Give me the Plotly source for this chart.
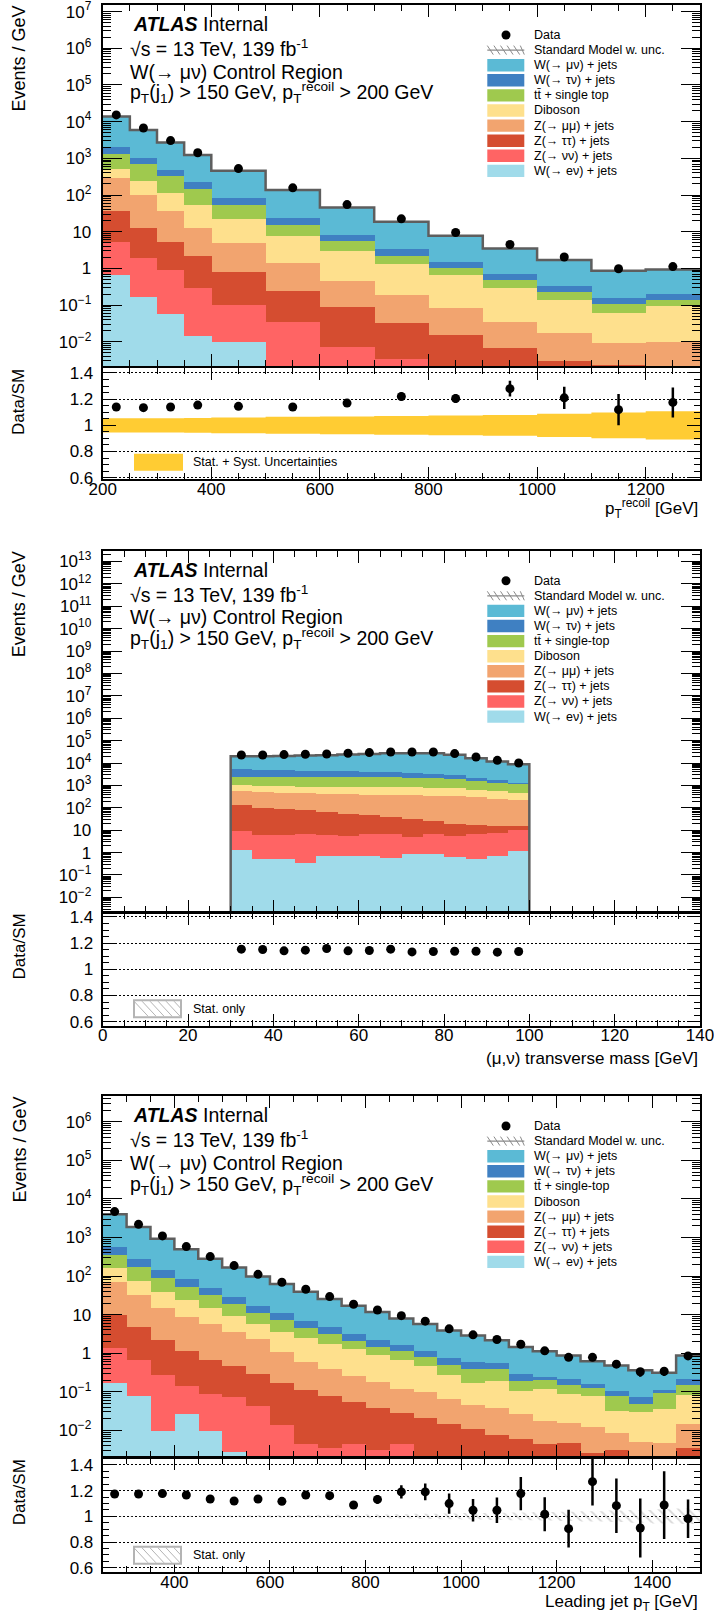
import math
import plotly.graph_objects as go

W, H = 714, 1615
FONT = "Liberation Sans, Arial, Helvetica, sans-serif"

# ---------------- colours ----------------
C_WMN = "#5bbad5"
C_WTN = "#3f80c2"
C_TT = "#9fc94e"
C_DIB = "#fee08d"
C_ZMM = "#f2a46f"
C_ZTT = "#d54d30"
C_ZNN = "#ff6464"
C_WEN = "#a0dbea"
C_BAND = "#ffcc33"

# ---------------- Panel 1 : p_T^recoil ----------------
p1_edges = [200, 250, 300, 350, 400, 500, 600, 700, 800, 900, 1000, 1100, 1200, 1300]
p1_wen = [0.66, 0.17, 0.059, 0.014, 0.01, 0.0005, 0.0002, 0.0001, 0, 0, 0, 0, 0]
p1_znn = [4.64, 1.70, 0.84, 0.27, 0.09, 0.0345, 0.0071, 0.0032, 0.002, 0.001, 0.0005, 0.0003, 0.0002]
p1_ztt = [31.7, 11.1, 4.4, 1.92, 0.71, 0.205, 0.080, 0.030, 0.013, 0.0059, 0.0025, 0.002, 0.0008]
p1_zmm = [260, 87, 31.7, 10.1, 4.0, 1.13, 0.36, 0.157, 0.066, 0.028, 0.014, 0.0067, 0.0086]
p1_dib = [213, 140, 74, 40.7, 17.2, 6.2, 2.55, 1.12, 0.58, 0.265, 0.123, 0.053, 0.084]
p1_top = [810, 465, 219, 93, 31, 7.3, 2.7, 0.89, 0.34, 0.18, 0.09, 0.048, 0.043]
p1_wtn = [770, 335, 150, 76, 28, 8.1, 2.7, 1.2, 0.45, 0.22, 0.11, 0.05, 0.058]
p1_wmn = [11710, 4860, 2220, 1008, 379, 114, 37.6, 15.3, 6.35, 2.8, 1.35, 0.70, 0.745]
p1_data = [15300, 6700, 3050, 1420, 527, 157, 55, 22.5, 9.5, 4.5, 2.05, 0.98, 1.12]
p1_ratio = [1.14, 1.135, 1.14, 1.155, 1.145, 1.14, 1.17, 1.22, 1.205, 1.28, 1.21, 1.12, 1.175]
p1_rerr = [0.01, 0.01, 0.012, 0.014, 0.015, 0.02, 0.025, 0.03, 0.035, 0.06, 0.085, 0.12, 0.115]
p1_unc = [0.055, 0.055, 0.055, 0.057, 0.06, 0.065, 0.068, 0.072, 0.075, 0.08, 0.088, 0.098, 0.108]

# ---------------- Panel 2 : transverse mass ----------------
p2_edges = [30, 35, 40, 45, 50, 55, 60, 65, 70, 75, 80, 85, 90, 95, 100]
p2_wen = [1.32, 0.52, 0.56, 0.36, 0.71, 0.76, 0.71, 0.62, 0.87, 0.93, 0.66, 0.52, 0.71, 1.23]
p2_znn = [8.0, 5.6, 5.5, 6.4, 5.9, 4.7, 6.1, 6.7, 4.3, 6.4, 5.0, 6.3, 7.4, 9.8]
p2_ztt = [125, 96, 86, 73, 61, 51.5, 41, 32.7, 28.8, 18.7, 14.7, 10.4, 7.4, 4.5]
p2_zmm = [452, 427, 402, 397, 378, 359, 354, 348, 341, 337, 319, 289, 252, 225]
p2_dib = [464, 451, 452, 438, 438, 468, 482, 467, 480, 463, 432, 366, 319, 221]
p2_top = [1420, 1410, 1444, 1475, 1506, 1506, 1506, 1535, 1455, 1404, 1239, 1028, 844, 739]
p2_wtn = [2960, 2680, 2510, 2350, 2190, 2030, 1880, 1740, 1540, 1250, 920, 610, 320, 180]
p2_wmn = [14470, 14930, 15900, 16660, 17420, 19480, 21230, 22870, 23650, 24020, 20170, 13990, 9950, 7420]
p2_data = [22900, 22900, 23700, 24500, 25400, 27200, 29100, 31200, 31200, 31200, 26300, 18600, 13200, 10000]
p2_ratio = [1.154, 1.151, 1.141, 1.146, 1.159, 1.141, 1.144, 1.154, 1.133, 1.136, 1.138, 1.138, 1.131, 1.136]
p2_rerr = [0.006, 0.006, 0.006, 0.006, 0.006, 0.006, 0.006, 0.006, 0.006, 0.006, 0.006, 0.007, 0.008, 0.009]
p2_unc = [0.004, 0.004, 0.004, 0.004, 0.004, 0.004, 0.004, 0.004, 0.004, 0.004, 0.004, 0.005, 0.005, 0.006]

# ---------------- Panel 3 : leading jet pT ----------------
p3_edges = [250, 300, 350, 400, 450, 500, 550, 600, 650, 700, 750, 800, 850,
            900, 950, 1000, 1050, 1100, 1150, 1200, 1250, 1300, 1350, 1400, 1450, 1500]
p3_wen = [0.166, 0.078, 0.0098, 0.0266, 0.0096, 0.0028, 0, 0, 0, 0, 0, 0, 0,
          0, 0, 0, 0, 0, 0, 0, 0, 0, 0, 0, 0]
p3_znn = [1.17, 0.57, 0.263, 0.115, 0.076, 0.072, 0.043, 0.0138, 0.0044, 0.0034, 0.0044, 0.0030, 0.0044,
          0.001, 0.0008, 0.0006, 0.0005, 0.0004, 0.0003, 0.0003, 0.0002, 0.0002, 0.0001, 0.0001, 0.0003]
p3_ztt = [8.49, 4.25, 1.94, 1.03, 0.582, 0.395, 0.247, 0.159, 0.108, 0.075, 0.049, 0.034, 0.0236,
          0.020, 0.0135, 0.0105, 0.0069, 0.0057, 0.0040, 0.0045, 0.0024, 0.0028, 0.0009, 0.0009, 0.0032]
p3_zmm = [62.1, 27.5, 13.0, 7.72, 4.95, 3.16, 2.01, 0.927, 0.468, 0.302, 0.207, 0.143, 0.090,
          0.078, 0.0517, 0.0349, 0.0296, 0.0209, 0.0132, 0.011, 0.0096, 0.0057, 0.004, 0.0038, 0.0114]
p3_dib = [87.1, 43.8, 24.3, 15.2, 9.58, 5.61, 3.44, 2.53, 1.86, 1.36, 1.01, 0.72, 0.552,
          0.369, 0.202, 0.127, 0.150, 0.078, 0.0985, 0.0702, 0.0658, 0.0223, 0.025, 0.0302, 0.0691]
p3_top = [194, 92.8, 48.2, 27.2, 17.2, 9.66, 5.56, 3.66, 2.17, 1.42, 0.85, 0.58, 0.48,
          0.312, 0.239, 0.227, 0.213, 0.082, 0.084, 0.067, 0.048, 0.045, 0.017, 0.058, 0.063]
p3_wtn = [228, 104, 56.3, 31.3, 15.9, 9.3, 5.5, 3.51, 2.26, 1.74, 1.04, 0.73, 0.49,
          0.37, 0.223, 0.194, 0.171, 0.109, 0.04, 0.067, 0.037, 0.029, 0.026, 0.021, 0.064]
p3_wmn = [3422, 1601, 791, 415, 234, 139, 81.0, 51.2, 32.1, 20.4, 13.9, 9.49, 6.26,
          4.54, 3.16, 2.27, 1.59, 1.15, 0.89, 0.65, 0.457, 0.375, 0.287, 0.196, 0.659]
p3_data = [4700, 2200, 1100, 581, 320, 187, 111, 69.3, 45.5, 29.4, 18.6, 13.2, 9.4,
           6.77, 4.28, 2.99, 2.26, 1.71, 1.15, 0.78, 0.78, 0.52, 0.33, 0.34, 0.85]
p3_ratio = [1.174, 1.174, 1.177, 1.166, 1.135, 1.119, 1.135, 1.117, 1.166, 1.161, 1.088, 1.132, 1.19,
            1.19, 1.099, 1.047, 1.047, 1.177, 1.016, 0.904, 1.27, 1.083, 0.909, 1.088, 0.982]
p3_rerr = [0.01, 0.01, 0.01, 0.012, 0.012, 0.013, 0.014, 0.015, 0.018, 0.02, 0.025, 0.035, 0.052,
           0.065, 0.078, 0.087, 0.099, 0.129, 0.132, 0.147, 0.186, 0.212, 0.23, 0.264, 0.15]
p3_unc = [0.003, 0.003, 0.004, 0.005, 0.006, 0.007, 0.008, 0.009, 0.01, 0.012, 0.013, 0.015, 0.017,
          0.02, 0.022, 0.025, 0.028, 0.03, 0.033, 0.036, 0.04, 0.045, 0.05, 0.055, 0.06]

labels_a = ["W(→ μν) + jets", "W(→ τν) + jets", "tt\u0304 + single top", "Diboson",
            "Z(→ μμ) + jets", "Z(→ ττ) + jets", "Z(→ νν) + jets", "W(→ eν) + jets"]
labels_b = ["W(→ μν) + jets", "W(→ τν) + jets", "tt\u0304 + single-top", "Diboson",
            "Z(→ μμ) + jets", "Z(→ ττ) + jets", "Z(→ νν) + jets", "W(→ eν) + jets"]
leg_colors = [C_WMN, C_WTN, C_TT, C_DIB, C_ZMM, C_ZTT, C_ZNN, C_WEN]
stack_colors = [C_WEN, C_ZNN, C_ZTT, C_ZMM, C_DIB, C_TT, C_WTN, C_WMN]

panels = [
    dict(edges=p1_edges, comps=[p1_wen, p1_znn, p1_ztt, p1_zmm, p1_dib, p1_top, p1_wtn, p1_wmn],
         data=p1_data, ratio=p1_ratio, rerr=p1_rerr, unc=p1_unc, kind="syst",
         main=(5, 366), rat=(368, 479.3), ylog=(-2.66, 7.18), rr=(0.588, 1.438),
         xr=(200, 1300), dt=200, mdt=50, labels=labels_a, floor=False,
         xtitle="p<sub>T</sub><sup>recoil</sup> [GeV]", xty=29),
    dict(edges=p2_edges, comps=[p2_wen, p2_znn, p2_ztt, p2_zmm, p2_dib, p2_top, p2_wtn, p2_wmn],
         data=p2_data, ratio=p2_ratio, rerr=p2_rerr, unc=p2_unc, kind="stat",
         main=(550.7, 911.5), rat=(912.5, 1025.7), ylog=(-2.63, 13.48), rr=(0.569, 1.434),
         xr=(0, 140), dt=20, mdt=5, labels=labels_b, floor=True,
         xtitle="(μ,ν) transverse mass [GeV]", xty=33),
    dict(edges=p3_edges, comps=[p3_wen, p3_znn, p3_ztt, p3_zmm, p3_dib, p3_top, p3_wtn, p3_wmn],
         data=p3_data, ratio=p3_ratio, rerr=p3_rerr, unc=p3_unc, kind="stat",
         main=(1096, 1457.3), rat=(1458.3, 1572.3), ylog=(-2.70, 6.67), rr=(0.564, 1.452),
         xr=(250, 1500), dt=200, mdt=50, labels=labels_b, floor=False,
         xtitle="Leading jet p<sub>T</sub> [GeV]", xty=31),
]


def P(x):
    return x / W


def Q(y):
    return 1 - y / H


XL, XR = 102.7, 700.0
fig = go.Figure()
layout = dict(width=W, height=H, margin=dict(l=0, r=0, t=0, b=0, autoexpand=False),
              paper_bgcolor="white", plot_bgcolor="white", showlegend=False,
              barmode="stack", bargap=0, font=dict(family=FONT, color="black"))
annotations = []
shapes = []


def axname(i):
    return ("x" if i == 1 else "x%d" % i), ("y" if i == 1 else "y%d" % i)


def laykey(letter, i):
    return letter + "axis" + ("" if i == 1 else str(i))


def exp_label(k):
    if k == 0:
        return "1"
    if k == 1:
        return "10"
    return "10<sup>%s</sup>" % (str(k) if k > 0 else "\u2212" + str(-k))


base_axis = dict(showline=True, linecolor="black", linewidth=2, mirror="ticks",
                 ticks="inside", tickcolor="black", tickwidth=1.3, showgrid=False,
                 zeroline=False, ticklabeloverflow="allow", automargin=False,
                 tickfont=dict(family=FONT, size=17, color="black"))

for k, p in enumerate(panels):
    im, ir = 2 * k + 1, 2 * k + 2
    xm, ym = axname(im)
    xr_, yr_ = axname(ir)
    e = p["edges"]
    n = len(e) - 1
    centers = [(e[i] + e[i + 1]) / 2 for i in range(n)]
    widths = [e[i + 1] - e[i] for i in range(n)]

    # stacked histogram
    for comp, col in zip(p["comps"], stack_colors):
        fig.add_trace(go.Bar(x=centers, y=comp, width=widths, marker=dict(color=col, line=dict(width=0)),
                             xaxis=xm, yaxis=ym, hoverinfo="skip"))
    tot = [sum(c[i] for c in p["comps"]) for i in range(n)]
    lx = list(e)
    ly = tot + [tot[-1]]
    if p["floor"]:
        fl = 10 ** (p["ylog"][0] - 1)
        lx = [e[0]] + lx + [e[-1]]
        ly = [fl] + ly + [fl]
    fig.add_trace(go.Scatter(x=lx, y=ly, mode="lines", line=dict(shape="hv", color="#5e5e5e", width=2.5),
                             xaxis=xm, yaxis=ym, hoverinfo="skip"))
    derr = [d * r / q for d, r, q in zip(p["data"], p["rerr"], p["ratio"])]
    fig.add_trace(go.Scatter(x=centers, y=p["data"], mode="markers",
                             marker=dict(color="black", size=9),
                             error_y=dict(type="data", array=derr, color="black", thickness=2.5, width=0),
                             xaxis=xm, yaxis=ym, hoverinfo="skip"))

    # ratio band
    up = [1 + u for u in p["unc"]] + [1 + p["unc"][-1]]
    dn = [1 - u for u in p["unc"]] + [1 - p["unc"][-1]]
    if p["kind"] == "syst":
        fig.add_trace(go.Scatter(x=e, y=up, mode="lines", line=dict(shape="hv", width=0, color=C_BAND),
                                 xaxis=xr_, yaxis=yr_, hoverinfo="skip"))
        fig.add_trace(go.Scatter(x=e, y=dn, mode="lines", line=dict(shape="hv", width=0, color=C_BAND),
                                 fill="tonexty", fillcolor=C_BAND, xaxis=xr_, yaxis=yr_, hoverinfo="skip"))
    else:
        fig.add_trace(go.Scatter(x=e, y=up, mode="lines", line=dict(shape="hv", width=0, color="#bbbbbb"),
                                 xaxis=xr_, yaxis=yr_, hoverinfo="skip"))
        fig.add_trace(go.Scatter(x=e, y=dn, mode="lines", line=dict(shape="hv", width=0, color="#bbbbbb"),
                                 fill="tonexty", fillcolor="rgba(0,0,0,0)",
                                 fillpattern=dict(shape="\\", fgcolor="#b0b0b0", bgcolor="rgba(0,0,0,0)",
                                                  size=7, solidity=0.25),
                                 xaxis=xr_, yaxis=yr_, hoverinfo="skip"))
    fig.add_trace(go.Scatter(x=centers, y=p["ratio"], mode="markers",
                             marker=dict(color="black", size=9),
                             error_y=dict(type="data", array=p["rerr"], color="black", thickness=2.5, width=0),
                             xaxis=xr_, yaxis=yr_, hoverinfo="skip"))

    # axes
    lo, hi = p["ylog"]
    kmin, kmax = math.ceil(lo), math.floor(hi)
    tv = [10 ** j for j in range(kmin, kmax + 1)]
    tt = [exp_label(j) for j in range(kmin, kmax + 1)]
    mv = [m * 10 ** j for j in range(kmin - 1, kmax + 1) for m in range(2, 10)]
    ya = dict(base_axis)
    ya.update(type="log", range=[lo, hi], tickvals=tv, ticktext=tt, ticklen=19,
              ticklabelstandoff=6,
              domain=[Q(p["main"][1]), Q(p["main"][0])], anchor=xm,
              minor=dict(tickvals=mv, ticklen=8, ticks="inside", tickcolor="black", tickwidth=1))
    xa = dict(base_axis)
    xa.update(range=list(p["xr"]), dtick=p["dt"], tick0=0, ticklen=12, showticklabels=False,
              domain=[P(XL), P(XR)], anchor=ym,
              minor=dict(dtick=p["mdt"], tick0=0, ticklen=6, ticks="inside", tickcolor="black", tickwidth=1))
    yra = dict(base_axis)
    yra.update(range=list(p["rr"]), tickvals=[0.6, 0.8, 1.0, 1.2, 1.4],
               ticktext=["0.6", "0.8", "1", "1.2", "1.4"], ticklen=13,
               ticklabelstandoff=4,
               showgrid=True, gridcolor="black", griddash="2px,2px", gridwidth=1,
               domain=[Q(p["rat"][1]), Q(p["rat"][0])], anchor=xr_,
               minor=dict(dtick=0.05, tick0=0.6, ticklen=6, ticks="inside", tickcolor="black", tickwidth=1))
    xra = dict(base_axis)
    xra.update(range=list(p["xr"]), dtick=p["dt"], tick0=0, ticklen=12, showticklabels=True,
               ticklabelstandoff=-7,
               domain=[P(XL), P(XR)], anchor=yr_,
               minor=dict(dtick=p["mdt"], tick0=0, ticklen=6, ticks="inside", tickcolor="black", tickwidth=1))
    layout[laykey("y", im)] = ya
    layout[laykey("x", im)] = xa
    layout[laykey("y", ir)] = yra
    layout[laykey("x", ir)] = xra

    top = p["main"][0]
    # header text
    hdr = [("<b><i>ATLAS</i></b> Internal", 19.0, 131),
           ("\u221As = 13 TeV, 139 fb<sup>-1</sup>", 43.0, 128),
           ("W(\u2192 \u03bc\u03bd) Control Region", 66.5, 128),
           ("p<sub>T</sub>(j<sub>1</sub>) > 150 GeV, p<sub>T</sub><sup>recoil</sup> > 200 GeV", 88.0, 128)]
    for txt, off, x0 in hdr:
        annotations.append(dict(text=txt, x=P(x0), y=Q(top + off), xref="paper", yref="paper",
                                xanchor="left", yanchor="middle", showarrow=False,
                                font=dict(family=FONT, size=19.5, color="black")))
    # legend
    row0 = top + 30
    dy = 15.1
    shapes.append(dict(type="circle", xref="paper", yref="paper", x0=P(506 - 4.5), x1=P(506 + 4.5),
                       y0=Q(row0 + 4.5), y1=Q(row0 - 4.5), fillcolor="black", line=dict(width=0)))
    annotations.append(dict(text="Data", x=P(531.7), y=Q(row0), xref="paper", yref="paper",
                            xanchor="left", yanchor="middle", showarrow=False,
                            font=dict(family=FONT, size=12.5, color="black")))
    ysm = row0 + dy
    shapes.append(dict(type="line", xref="paper", yref="paper", x0=P(487.3), x1=P(524.3),
                       y0=Q(ysm), y1=Q(ysm), line=dict(color="#8a8a8a", width=1.2)))
    for j in range(6):
        xx = 487.3 + j * 6.6
        shapes.append(dict(type="line", xref="paper", yref="paper", x0=P(xx), x1=P(min(xx + 6, 524.3)),
                           y0=Q(ysm - 4.5), y1=Q(ysm + 4.5), line=dict(color="#8a8a8a", width=1)))
    annotations.append(dict(text="Standard Model w. unc.", x=P(531.7), y=Q(ysm), xref="paper", yref="paper",
                            xanchor="left", yanchor="middle", showarrow=False,
                            font=dict(family=FONT, size=12.5, color="black")))
    for j, (lab, col) in enumerate(zip(p["labels"], leg_colors)):
        yc = row0 + (j + 2) * dy
        shapes.append(dict(type="rect", xref="paper", yref="paper", x0=P(487.3), x1=P(524.3),
                           y0=Q(yc + 6.2), y1=Q(yc - 6.2), fillcolor=col, line=dict(width=0)))
        annotations.append(dict(text=lab, x=P(531.7), y=Q(yc), xref="paper", yref="paper",
                                xanchor="left", yanchor="middle", showarrow=False,
                                font=dict(family=FONT, size=12.5, color="black")))
    # ratio legend
    rb = p["rat"][1]
    by0, by1 = rb - 25.5, rb - 8.5
    if p["kind"] == "syst":
        shapes.append(dict(type="rect", xref="paper", yref="paper", x0=P(134), x1=P(183),
                           y0=Q(by1), y1=Q(by0), fillcolor=C_BAND, line=dict(width=0)))
        ltxt = "Stat. + Syst. Uncertainties"
    else:
        shapes.append(dict(type="rect", xref="paper", yref="paper", x0=P(134), x1=P(181),
                           y0=Q(by1), y1=Q(by0), fillcolor="white", line=dict(color="#b4b4b4", width=2)))
        for j in range(6):
            xx = 134 + j * 8.0
            x1 = min(xx + 14, 181)
            frac = (x1 - xx) / 14
            shapes.append(dict(type="line", xref="paper", yref="paper", x0=P(xx), x1=P(x1),
                               y0=Q(by0 + 1), y1=Q(by0 + 1 + frac * (by1 - by0 - 2)),
                               line=dict(color="#b4b4b4", width=1)))
        ltxt = "Stat. only"
    annotations.append(dict(text=ltxt, x=P(191), y=Q((by0 + by1) / 2), xref="paper", yref="paper",
                            xanchor="left", yanchor="middle", showarrow=False,
                            font=dict(family=FONT, size=12.5, color="black")))
    # axis titles
    annotations.append(dict(text="Events / GeV", x=P(19), y=Q(top - 1.5), xref="paper", yref="paper",
                            xanchor="center", yanchor="top", textangle=-90, showarrow=False,
                            font=dict(family=FONT, size=18, color="black")))
    annotations.append(dict(text="Data/SM", x=P(19), y=Q(p["rat"][0] - 1), xref="paper", yref="paper",
                            xanchor="center", yanchor="top", textangle=-90, showarrow=False,
                            font=dict(family=FONT, size=17, color="black")))
    annotations.append(dict(text=p["xtitle"], x=P(XR), y=Q(rb + p["xty"]), xref="paper", yref="paper",
                            xanchor="right", yanchor="middle", showarrow=False,
                            font=dict(family=FONT, size=17, color="black")))

layout["annotations"] = annotations
layout["shapes"] = shapes
fig.update_layout(**layout)
fig.write_html("out.html", config={"displayModeBar": False},
               post_script="document.body.style.margin='0px';document.body.style.padding='0px';")
